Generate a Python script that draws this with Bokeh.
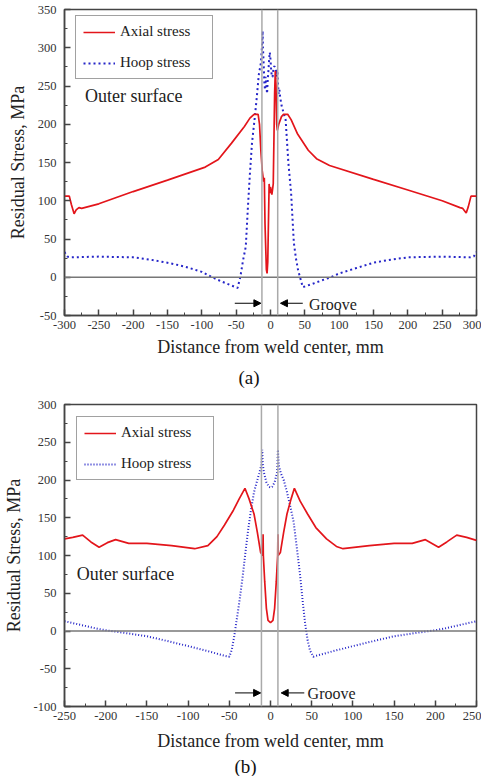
from bokeh.plotting import figure
from bokeh.layouts import column
from bokeh.models import (Span, Label, Legend, LegendItem, Arrow, NormalHead, Title,
                          SingleIntervalTicker, Range1d)
from bokeh.embed import file_html
from bokeh.resources import INLINE

# ---------------- data: panel (a) ----------------
a_axial_x = [-300, -293, -290, -286, -283, -279, -275, -250, -200, -150, -95, -76, -57, -38,
             -30, -24, -18, -16, -14, -12, -11, -10, -9, -8, -6, -5, -4, -2, -1, 0, 1, 2, 3,
             4, 5, 6, 7, 8, 9, 10, 12, 16, 19, 25, 30, 39, 55, 67, 86, 150, 200, 250, 276,
             280, 285, 288, 292, 300]
a_axial_y = [106, 106, 95, 83, 88, 91, 90, 96, 112, 127, 144, 154, 175, 197,
             208, 213, 213, 200, 165, 139, 132, 125, 130, 70, 10, 5, 20, 122, 110, 118, 112, 108, 115,
             122, 180, 240, 270, 250, 200, 192, 200, 210, 213, 213, 206, 188, 166, 155, 146, 128, 114, 100, 91,
             90, 84, 92, 106, 106]
a_hoop_x = [-300, -296, -290, -250, -200, -175, -150, -125, -100, -85, -70, -48, -44, -40, -36,
            -33, -30, -27, -23, -20, -17, -14, -12.5, -11.5, -11, -10, -9, -8, -7, -6, -5, -4,
            -3, -2, -1, 0, 1, 2, 3, 4, 5, 6, 7, 8, 9, 10, 11, 12, 13, 14, 16, 19, 22, 26, 30,
            34, 37, 40, 43, 47, 60, 75, 88, 100, 125, 150, 175, 200, 250, 290, 296, 300]
a_hoop_y = [33, 27, 26, 27, 26, 23, 19, 14, 7, 0, -6, -14, 0, 22, 40,
            90, 135, 175, 208, 235, 265, 280, 300, 322, 300, 280, 255, 245, 262, 250, 240, 258,
            270, 285, 294, 285, 270, 262, 262, 270, 275, 276, 272, 270, 262, 270, 250, 240, 245, 236, 225, 215, 206, 150, 110,
            45, 25, 10, 0, -13, -9, -4, 0, 5, 12, 19, 23, 26, 27, 26, 27, 33]
a_groove = [-12.5, 10.5]
a_xticks = list(range(-300, 301, 50))
a_yticks = list(range(-50, 351, 50))

# ---------------- data: panel (b) ----------------
b_axial_x = [-250, -240, -228, -218, -208, -198, -188, -172, -150, -120, -92, -76, -65, -56, -45,
             -38, -31, -26, -20, -16, -12, -9.3, -9, -8.7, -7, -5, -3, 0, 3, 5, 7, 8.7, 9, 9.3,
             12, 16, 20, 25, 29, 36, 45, 55, 68, 80, 88, 120, 150, 172, 188, 204, 214, 226, 238, 250]
b_axial_y = [122, 124, 127, 118, 111, 117, 121, 116, 116, 113, 109, 113, 125, 140, 160,
             175, 189, 175, 155, 131, 104, 100, 128, 100, 65, 30, 14, 11, 14, 30, 65, 100, 128, 100,
             104, 131, 155, 175, 189, 172, 155, 137, 122, 112, 109, 113, 116, 116, 121, 111, 118, 127, 124, 120]
b_hoop_x = [-250, -230, -210, -200, -180, -150, -130, -100, -75, -55, -50, -47, -44, -41, -38,
            -34, -30, -27, -24, -20, -16, -13.7, -11, -10, -9.5, -8, -5, -2, 0, 2, 5, 8, 8.5,
            9, 10, 12.5, 16, 20, 24, 28, 32, 36, 39, 42, 45, 48, 52, 55, 75, 100, 130, 150,
            180, 200, 210, 230, 250]
b_hoop_y = [13, 8, 3, 1, -2, -7, -12, -20, -27, -33, -34, -25, -7, 15, 37,
            70, 108, 135, 158, 184, 200, 209, 220, 240, 222, 210, 197, 191, 190, 191, 197, 210, 222,
            240, 220, 209, 200, 184, 165, 145, 110, 73, 40, 10, -12, -26, -34, -33, -27, -20, -12, -7,
            -2, 1, 3, 8, 13]
b_groove = [-11, 9]
b_xticks = list(range(-250, 251, 50))
b_yticks = list(range(-100, 301, 50))

RED = "#e3151b"
BLUE = "#2525c8"
SERIF = "Liberation Serif"
XLABEL = "Distance from weld center, mm"
YLABEL = "Residual Stress, MPa"


def make_panel(xr, yr, xticks, yticks, ax, ay, hx, hy, groove, dash, height, bl, bt,
               leg_loc, xlab_standoff, cap, cap_offset, cap_standoff,
               arrows, groove_txt, outer_txt):
    p = figure(width=481, height=height, output_backend="svg", toolbar_location=None,
               x_range=Range1d(*xr), y_range=Range1d(*yr),
               min_border_left=bl, min_border_right=5, min_border_top=bt,
               min_border_bottom=30)
    p.grid.visible = False
    p.outline_line_color = "#444444"
    p.outline_line_width = 1.5
    p.background_fill_color = "white"
    for axis, ticks in ((p.xaxis[0], xticks), (p.yaxis[0], yticks)):
        axis.ticker = SingleIntervalTicker(interval=50, num_minor_ticks=2)
        axis.major_label_overrides = {t: str(t) for t in ticks}
        axis.major_tick_in = 6
        axis.major_tick_out = 0
        axis.minor_tick_in = 3
        axis.minor_tick_out = 0
        axis.axis_line_color = "#444444"
        axis.axis_line_width = 1.5
        axis.major_tick_line_color = "#444444"
        axis.minor_tick_line_color = "#444444"
        axis.major_tick_line_width = 1.5
        axis.major_label_text_font = SERIF
        axis.major_label_text_font_size = "12.5px"
        axis.major_label_text_color = "#333333"
        axis.axis_label_text_font = SERIF
        axis.axis_label_text_font_size = "18px"
        axis.axis_label_text_font_style = "normal"
        axis.axis_label_text_color = "#222222"
    p.xaxis.major_label_standoff = 5
    p.yaxis.major_label_standoff = 8
    p.xaxis.axis_label = XLABEL
    p.yaxis.axis_label = YLABEL
    p.xaxis.axis_label_standoff = xlab_standoff
    p.yaxis.axis_label_standoff = 7

    p.add_layout(Span(location=0, dimension="width", line_color="#777777", line_width=1.3))
    for g in groove:
        p.add_layout(Span(location=g, dimension="height", line_color="#aaaaaa", line_width=1.5))

    r_hoop = p.line(hx, hy, line_color=BLUE, line_width=2, line_dash=dash)
    r_ax = p.line(ax, ay, line_color=RED, line_width=1.7)

    leg = Legend(items=[LegendItem(label="Axial stress", renderers=[r_ax]),
                        LegendItem(label="Hoop stress", renderers=[r_hoop])],
                 location=leg_loc, border_line_color="#444444", border_line_width=1,
                 padding=7, spacing=14, glyph_width=32, glyph_height=16, label_height=16,
                 label_standoff=5, label_width=85, label_text_font=SERIF,
                 label_text_font_size="15px", label_text_color="#222222", margin=0,
                 background_fill_alpha=1.0)
    p.add_layout(leg)

    for (xs, xe, yv) in arrows:
        p.add_layout(Arrow(end=NormalHead(size=7, fill_color="black", line_color="black"),
                           x_start=xs, y_start=yv, x_end=xe, y_end=yv,
                           line_color="black", line_width=1))
    gx, gy = groove_txt
    p.add_layout(Label(x=gx, y=gy, text="Groove", text_font=SERIF, text_font_size="16px",
                       text_baseline="middle", text_align="left", text_color="#222222"))
    ox, oy = outer_txt
    p.add_layout(Label(x=ox, y=oy, text="Outer surface", text_font=SERIF, text_font_size="18px",
                       text_baseline="middle", text_align="left", text_color="#222222"))

    p.add_layout(Title(text=cap, align="left", offset=cap_offset, standoff=cap_standoff,
                       text_font=SERIF, text_font_size="19px", text_font_style="normal",
                       text_color="#111111"), "below")
    return p


pa = make_panel((-300, 300), (-50, 350), a_xticks, a_yticks, a_axial_x, a_axial_y,
                a_hoop_x, a_hoop_y, a_groove,
                "2 3", 392, 56, 9, (11, 236), 5, "(a)", 174, 10,
                [(-52, -14, -34), (47, 14.5, -34)], (56, -35), (-270, 237))
pb = make_panel((-250, 250), (-100, 300), b_xticks, b_yticks, b_axial_x, b_axial_y,
                b_hoop_x, b_hoop_y, b_groove,
                "1 2", 384, 60, 12, (12, 226), 8, "(b)", 170, 0,
                [(-43, -12, -82), (41, 13, -82)], (45, -83), (-235, 75))

layout = column(pa, pb, spacing=0)
with open("out.html", "w") as f:
    f.write(file_html(layout, INLINE))
